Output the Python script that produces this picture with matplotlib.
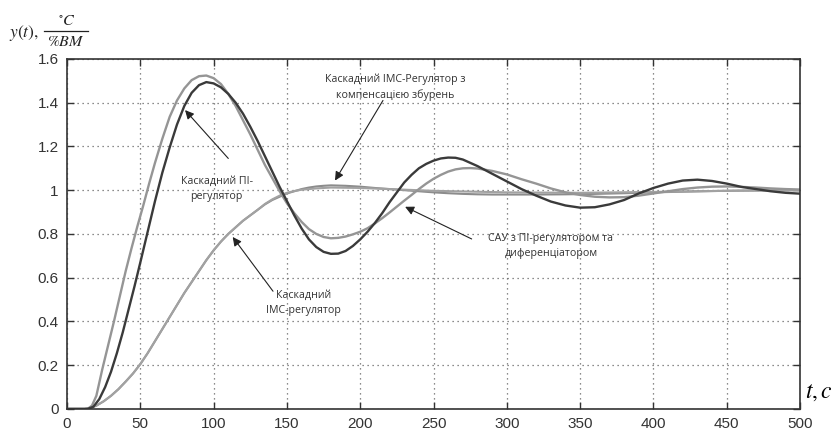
import matplotlib.pyplot as plt
from matplotlib.lines import Line2D

plt.rcParams['font.family'] = ['Open Sans', 'DejaVu Sans']
plt.rcParams['mathtext.fontset'] = 'stix'

# Каскадний ПІ-регулятор
t_pi = [0, 14, 18, 22, 26, 30, 34, 38, 42, 46, 50, 55, 60, 65, 70, 75, 80, 85, 90, 95,
        100, 105, 110, 115, 120, 125, 130, 135, 140, 145, 150, 155, 160, 165, 170, 175,
        180, 185, 190, 195, 200, 205, 210, 215, 220, 225, 230, 235, 240, 245, 250, 255,
        260, 265, 270, 275, 280, 290, 300, 310, 320, 330, 340, 350, 360, 370, 380, 390,
        400, 410, 420, 430, 440, 450, 460, 470, 480, 490, 500]
y_pi = [0, 0, 0.01, 0.045, 0.10, 0.17, 0.255, 0.35, 0.455, 0.56, 0.67, 0.81, 0.95, 1.08,
        1.195, 1.30, 1.385, 1.445, 1.48, 1.494, 1.488, 1.47, 1.44, 1.40, 1.35, 1.29,
        1.225, 1.155, 1.085, 1.015, 0.95, 0.885, 0.825, 0.775, 0.74, 0.718, 0.709, 0.71,
        0.722, 0.745, 0.775, 0.81, 0.85, 0.895, 0.945, 0.99, 1.035, 1.07, 1.10, 1.12,
        1.135, 1.145, 1.149, 1.148, 1.14, 1.125, 1.11, 1.075, 1.04, 1.005, 0.975, 0.948,
        0.93, 0.92, 0.922, 0.935, 0.955, 0.985, 1.01, 1.03, 1.044, 1.048, 1.042, 1.03,
        1.015, 1.005, 0.995, 0.988, 0.984]

# САУ з ПІ-регулятором та диференціатором
t_pid = [0, 14, 17, 20, 24, 28, 32, 36, 40, 44, 48, 52, 56, 60, 65, 70, 75, 80, 85, 90,
         95, 100, 105, 110, 115, 120, 125, 130, 135, 140, 145, 150, 155, 160, 165, 170,
         175, 180, 185, 190, 195, 200, 205, 210, 215, 220, 225, 230, 235, 240, 245, 250,
         255, 260, 265, 270, 275, 280, 290, 300, 310, 320, 330, 340, 350, 360, 370, 380,
         390, 400, 410, 420, 430, 440, 450, 460, 470, 480, 490, 500]
y_pid = [0, 0, 0.015, 0.06, 0.18, 0.29, 0.4, 0.515, 0.63, 0.735, 0.835, 0.93, 1.03, 1.125,
         1.235, 1.335, 1.41, 1.465, 1.503, 1.521, 1.524, 1.512, 1.485, 1.44, 1.385, 1.32,
         1.255, 1.185, 1.115, 1.055, 0.995, 0.94, 0.895, 0.855, 0.822, 0.8, 0.786, 0.78,
         0.782, 0.788, 0.798, 0.81, 0.826, 0.848, 0.872, 0.898, 0.925, 0.952, 0.978,
         1.005, 1.03, 1.052, 1.07, 1.085, 1.095, 1.1, 1.101, 1.099, 1.088, 1.072, 1.05,
         1.03, 1.008, 0.99, 0.978, 0.97, 0.967, 0.968, 0.975, 0.985, 0.995, 1.005, 1.012,
         1.016, 1.017, 1.015, 1.012, 1.008, 1.005, 1.003]

# Каскадний IMC-регулятор
t_imc = [0, 12, 16, 20, 25, 30, 35, 40, 45, 50, 55, 60, 65, 70, 75, 80, 85, 90, 95, 100,
         105, 110, 115, 120, 125, 130, 135, 140, 145, 150, 155, 160, 165, 170, 175, 180,
         190, 200, 210, 220, 230, 240, 250, 260, 270, 280, 290, 300, 320, 340, 360, 380,
         400, 420, 440, 460, 480, 500]
y_imc = [0, 0, 0.005, 0.015, 0.035, 0.06, 0.09, 0.125, 0.162, 0.205, 0.255, 0.31, 0.365,
         0.42, 0.475, 0.53, 0.58, 0.63, 0.68, 0.725, 0.765, 0.80, 0.83, 0.86, 0.885,
         0.91, 0.935, 0.955, 0.97, 0.985, 0.995, 1.005, 1.012, 1.017, 1.02, 1.022, 1.02,
         1.016, 1.01, 1.005, 1.0, 0.995, 0.99, 0.986, 0.983, 0.981, 0.98, 0.98, 0.98,
         0.981, 0.983, 0.986, 0.99, 0.993, 0.996, 0.998, 0.999, 1.0]

# Каскадний IMC-регулятор з компенсацією збурень
t_comp = [0, 12, 16, 20, 25, 30, 35, 40, 45, 50, 55, 60, 65, 70, 75, 80, 85, 90, 95, 100,
          105, 110, 115, 120, 125, 130, 135, 140, 145, 150, 155, 160, 170, 180, 200, 220,
          250, 300, 350, 400, 450, 500]
y_comp = [0, 0, 0.005, 0.015, 0.035, 0.06, 0.09, 0.125, 0.162, 0.205, 0.255, 0.31, 0.365,
          0.42, 0.475, 0.53, 0.58, 0.63, 0.68, 0.725, 0.765, 0.80, 0.83, 0.86, 0.885,
          0.91, 0.937, 0.958, 0.975, 0.988, 0.996, 1.002, 1.008, 1.012, 1.01, 1.005,
          0.997, 0.99, 0.988, 0.992, 0.997, 1.0]

x_ticks = [0, 50, 100, 150, 200, 250, 300, 350, 400, 450, 500]
y_ticks = [0, 0.2, 0.4, 0.6, 0.8, 1, 1.2, 1.4, 1.6]
y_ticklabels = ['0', '0.2', '0.4', '0.6', '0.8', '1', '1.2', '1.4', '1.6']

fig = plt.figure(figsize=(8.38, 4.30), dpi=100)
ax = fig.add_axes([0.080, 0.049, 0.8747, 0.814])

ax.plot(t_imc, y_imc, color='#8c8c8c', lw=1.5)
ax.plot(t_comp, y_comp, color='#a2a2a2', lw=1.5)
ax.plot(t_pid, y_pid, color='#959595', lw=1.7)
ax.plot(t_pi, y_pi, color='#3a3a3a', lw=1.7)

ax.set_xlim(0, 500)
ax.set_ylim(0, 1.6)
ax.set_xticks(x_ticks)
ax.set_yticks(y_ticks)
ax.set_yticklabels(y_ticklabels)
ax.grid(True, color='#666666', linestyle=(0, (1, 3)), linewidth=0.9)
ax.tick_params(direction='in', length=5, width=1, top=True, right=True,
               colors='#333333', labelsize=11, pad=6)
for lbl in ax.get_xticklabels() + ax.get_yticklabels():
    lbl.set_family(['Liberation Sans', 'DejaVu Sans'])
    lbl.set_color('#333333')
for s in ax.spines.values():
    s.set_color('#333333')
    s.set_linewidth(1.2)

# підписи кривих зі стрілками
arrow = dict(arrowstyle='-|>', color='#222222', lw=0.8, mutation_scale=13,
             shrinkA=0, shrinkB=0)
txt = dict(fontsize=7.7, color='#333333', ha='center', va='center', linespacing=1.5)
ax.annotate('', xy=(80.5, 1.366), xytext=(110, 1.145), arrowprops=arrow)
ax.text(102, 1.007, 'Каскадний ПІ-\nрегулятор', **txt)
ax.annotate('', xy=(182.8, 1.044), xytext=(215.5, 1.41), arrowprops=arrow)
ax.text(224, 1.47, 'Каскадний IMC-Регулятор з\nкомпенсацією збурень', **txt)
ax.annotate('', xy=(230.6, 0.924), xytext=(276, 0.777), arrowprops=arrow)
ax.text(330, 0.745, 'САУ з ПІ-регулятором та\nдиференціатором', **txt)
ax.annotate('', xy=(113, 0.786), xytext=(140.5, 0.538), arrowprops=arrow)
ax.text(161, 0.483, 'Каскадний\nIMC-регулятор', **txt)

# підпис осі y: y(t), °C / %BM (дріб зібраний вручну)
fig.text(0.011, 0.924, r'$y(t),$', fontsize=12.5, va='center', color='#222222')
fig.text(0.080, 0.950, r'$^{\circ}C$', fontsize=11.5, ha='center', va='center',
         color='#222222')
fig.add_artist(Line2D([0.052, 0.105], [0.927, 0.927], color='#222222', lw=0.9,
                      transform=fig.transFigure))
fig.text(0.078, 0.902, r'$\%BM$', fontsize=11.5, ha='center', va='center',
         color='#222222')
# підпис осі x
fig.text(0.961, 0.088, r'$t,c$', fontsize=17, va='center')

plt.savefig('out.png', dpi=100)
